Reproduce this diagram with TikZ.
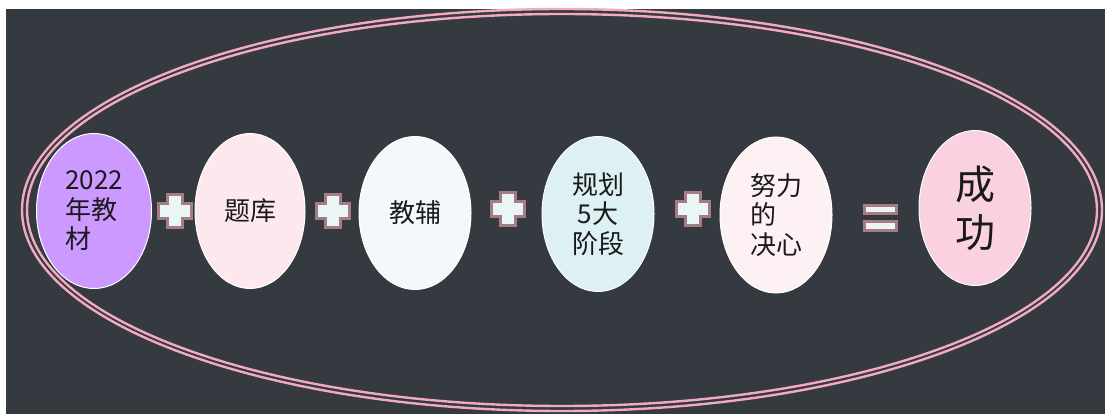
\documentclass[tikz,border=0pt]{standalone}
\usepackage{fontspec}
\newfontfamily\cjk{Noto Sans CJK SC}
\usetikzlibrary{shapes.geometric}

\definecolor{slate}{HTML}{343A40}
\definecolor{ringpink}{HTML}{F2A9C1}
\definecolor{lilac}{HTML}{CC99FF}
\definecolor{blush}{HTML}{FDE8EE}
\definecolor{frost}{HTML}{F3F9FA}
\definecolor{icy}{HTML}{DDF0F4}
\definecolor{shell}{HTML}{FDF1F3}
\definecolor{rose}{HTML}{F9D1E0}
\definecolor{signfill}{HTML}{EAF6F6}
\definecolor{signedge}{HTML}{A67B83}
\definecolor{ink}{HTML}{1A1A1A}

\begin{document}
\begin{tikzpicture}
                [
                x=1pt, y=-1pt,
                oval/.style={ellipse, draw=white, line width=1pt, inner sep=0pt,
                    minimum width=112pt, minimum height=155pt, text=ink,
                    font=\cjk\fontsize{26}{29.5}\selectfont, align=left},
                ring/.style={draw=ringpink, line width=2.4pt},
                sign/.style={fill=signfill, draw=signedge, line width=3pt},
                plussign/.pic={
                    \path[sign] (-7.5,-16.5) -- (7.5,-16.5) -- (7.5,-7.5) -- (16.5,-7.5)
                        -- (16.5,7.5) -- (7.5,7.5) -- (7.5,16.5) -- (-7.5,16.5)
                        -- (-7.5,7.5) -- (-16.5,7.5) -- (-16.5,-7.5) -- (-7.5,-7.5) -- cycle;
                },
                equalsign/.pic={
                    \path[sign] (-16,-12.5) rectangle (16,-4.5);
                    \path[sign] (-16,3.5) rectangle (16,12.5);
                }
                ]
                % Background
                \fill[white] (0,0) rectangle (1105,414);
                \fill[slate] (6,9) rectangle (1105,414);
                % Outer double ring
                \draw[ring] (562,210) ellipse [x radius=540, y radius=201];
                \draw[ring] (562,210) ellipse [x radius=535, y radius=196];
                % Ovals
                \node[oval, fill=lilac, minimum width=115pt] (jiaocai) at (94,211) {2022\\年教\\材};
                \node[oval, fill=blush, minimum width=110pt] (tiku) at (250,211) {题库};
                \node[oval, fill=frost, minimum height=153pt] (jiaofu) at (415,213) {教辅};
                \node[oval, fill=icy, align=center] (guihua) at (598,214) {规划\\5大\\阶段};
                \node[oval, fill=shell, minimum height=156pt] (nuli) at (776,215) {努力\\的\\决心};
                \node[oval, fill=rose, font=\cjk\fontsize{40}{48}\selectfont] (chenggong) at (975,208) {成\\功};
                % Signs between the ovals
                \pic (plusA) at (175,211) {plussign};
                \pic (plusB) at (333,211) {plussign};
                \pic (plusC) at (508,209) {plussign};
                \pic (plusD) at (693,209) {plussign};
                \pic (equals) at (880,218) {equalsign};
            \end{tikzpicture}
\end{document}
